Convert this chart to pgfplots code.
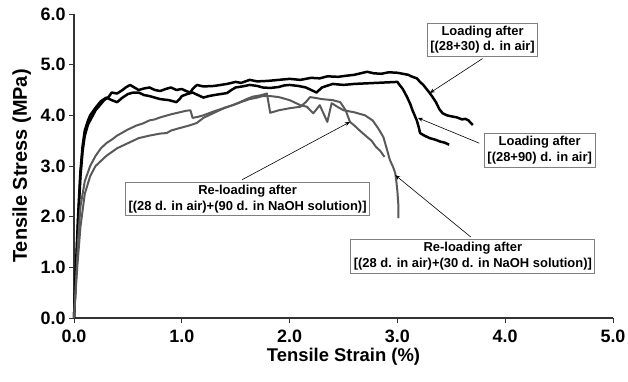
\documentclass[border=0pt]{standalone}
\usepackage{fontspec}
\setmainfont{Liberation Sans}
\usepackage{pgfplots}
\pgfplotsset{compat=1.18}
\usetikzlibrary{arrows.meta}
\begin{document}
\begin{tikzpicture}
\path[use as bounding box] (-74bp,-64bp) rectangle (554bp,318bp);
\begin{axis}[
  anchor=south west, at={(0,0)},
  scale only axis, width=539bp, height=304bp,
  xmin=0, xmax=5, ymin=0, ymax=6,
  xtick={0,1,...,5}, ytick={0,1,...,6},
  axis x line*=bottom, axis y line*=left,
  axis line style={line width=1.2pt, color=black!80, -},
  tick style={line width=1pt, color=black!80},
  tick align=outside, major tick length=5bp,
  xticklabel style={font=\fontsize{18}{20}\selectfont\bfseries, yshift=-3bp},
  yticklabel style={font=\fontsize{18}{20}\selectfont\bfseries},
  /pgf/number format/assume math mode=true,
  /pgf/number format/.cd, fixed, fixed zerofill, precision=1, /pgfplots/.cd,
  xlabel={Tensile Strain (\%)}, ylabel={Tensile Stress (MPa)},
  xlabel style={font=\fontsize{18.5}{20}\selectfont\bfseries, at={(axis description cs:0.5,-0.1447)}, anchor=base},
  ylabel style={font=\fontsize{20}{22}\selectfont\bfseries, at={(axis description cs:-0.0872,0.5)}, anchor=base},
  clip=false,
]
% Loading after (28+30) d. in air
\addplot[black, line width=2.5pt, line join=round] coordinates {
(0,0) (0.02,1.0) (0.04,2.0) (0.06,2.8) (0.08,3.3) (0.1,3.6) (0.13,3.82) (0.15,3.9) (0.18,4.02) (0.2,4.1) (0.24,4.2) (0.28,4.3) (0.32,4.36) (0.35,4.45) (0.4,4.43) (0.45,4.5) (0.48,4.55) (0.52,4.6) (0.56,4.55) (0.6,4.5) (0.65,4.53) (0.7,4.55) (0.75,4.5) (0.8,4.48) (0.85,4.52) (0.9,4.55) (0.95,4.5) (1.0,4.52) (1.04,4.48) (1.08,4.45) (1.1,4.52) (1.14,4.6) (1.2,4.57) (1.3,4.58) (1.36,4.6) (1.42,4.62) (1.5,4.66) (1.55,4.64) (1.63,4.7) (1.7,4.67) (1.8,4.68) (1.9,4.7) (2.0,4.72) (2.1,4.7) (2.2,4.74) (2.28,4.73) (2.35,4.77) (2.45,4.76) (2.52,4.78) (2.6,4.8) (2.66,4.83) (2.72,4.86) (2.78,4.83) (2.85,4.82) (2.92,4.85) (3.0,4.84) (3.05,4.82) (3.1,4.8) (3.14,4.76) (3.18,4.73) (3.21,4.66) (3.24,4.6) (3.27,4.52) (3.30,4.44) (3.33,4.35) (3.36,4.25) (3.39,4.12) (3.42,4.04) (3.46,4.0) (3.5,3.98) (3.55,3.96) (3.6,3.92) (3.63,3.93) (3.66,3.9) (3.68,3.85) (3.7,3.81)
};
% Loading after (28+90) d. in air
\addplot[black, line width=2.5pt, line join=round] coordinates {
(0,0) (0.02,1.1) (0.04,2.1) (0.06,2.9) (0.08,3.4) (0.1,3.7) (0.13,3.9) (0.15,4.0) (0.2,4.15) (0.25,4.28) (0.3,4.35) (0.35,4.3) (0.4,4.26) (0.45,4.35) (0.5,4.42) (0.55,4.45) (0.6,4.45) (0.65,4.4) (0.7,4.38) (0.75,4.35) (0.8,4.32) (0.88,4.3) (0.95,4.26) (0.98,4.32) (1.0,4.38) (1.05,4.42) (1.1,4.45) (1.15,4.4) (1.2,4.35) (1.25,4.38) (1.3,4.4) (1.36,4.42) (1.42,4.44) (1.46,4.5) (1.5,4.55) (1.56,4.57) (1.63,4.6) (1.7,4.58) (1.75,4.55) (1.82,4.54) (1.9,4.56) (1.95,4.59) (2.0,4.6) (2.08,4.58) (2.15,4.55) (2.2,4.5) (2.25,4.45) (2.3,4.55) (2.4,4.62) (2.5,4.6) (2.6,4.62) (2.7,4.63) (2.8,4.64) (2.9,4.65) (3.0,4.66) (3.02,4.6) (3.05,4.52) (3.09,4.36) (3.12,4.22) (3.14,4.1) (3.16,4.0) (3.18,3.9) (3.2,3.75) (3.21,3.65) (3.25,3.6) (3.3,3.55) (3.35,3.52) (3.4,3.48) (3.44,3.46) (3.48,3.42)
};
% Re-loading after (28 d. in air)+(90 d. in NaOH)
\addplot[black!65, line width=2pt, line join=round] coordinates {
(0,0) (0.02,0.8) (0.04,1.6) (0.06,2.2) (0.1,2.7) (0.15,3.0) (0.2,3.2) (0.25,3.35) (0.3,3.45) (0.35,3.52) (0.4,3.6) (0.45,3.66) (0.5,3.72) (0.58,3.8) (0.64,3.84) (0.7,3.9) (0.75,3.92) (0.8,3.96) (0.85,3.99) (0.9,4.02) (1.0,4.07) (1.04,4.09) (1.08,4.1) (1.1,3.95) (1.15,3.97) (1.2,4.0) (1.3,4.08) (1.4,4.15) (1.47,4.2) (1.54,4.26) (1.6,4.32) (1.66,4.37) (1.72,4.39) (1.79,4.43) (1.82,4.05) (1.9,4.1) (2.0,4.14) (2.1,4.17) (2.15,4.26) (2.19,4.36) (2.25,4.34) (2.3,4.32) (2.4,4.3) (2.47,4.26) (2.52,4.1) (2.56,3.87) (2.6,3.8) (2.65,3.7) (2.72,3.57) (2.76,3.5) (2.8,3.38) (2.84,3.3) (2.88,3.18)
};
% Re-loading after (28 d. in air)+(30 d. in NaOH)
\addplot[black!65, line width=2pt, line join=round] coordinates {
(0,0) (0.03,1.0) (0.06,1.8) (0.1,2.45) (0.15,2.8) (0.2,3.0) (0.25,3.1) (0.3,3.2) (0.4,3.35) (0.5,3.45) (0.6,3.55) (0.7,3.6) (0.8,3.64) (0.86,3.65) (0.9,3.7) (0.95,3.73) (1.0,3.76) (1.07,3.8) (1.14,3.85) (1.2,3.95) (1.3,4.05) (1.4,4.15) (1.5,4.22) (1.56,4.27) (1.63,4.32) (1.7,4.35) (1.75,4.38) (1.82,4.38) (1.9,4.36) (2.0,4.3) (2.1,4.2) (2.16,4.17) (2.22,4.04) (2.28,4.2) (2.35,3.87) (2.39,4.24) (2.45,4.16) (2.5,4.1) (2.6,4.06) (2.7,4.0) (2.77,3.9) (2.82,3.75) (2.87,3.57) (2.9,3.35) (2.93,3.12) (2.96,2.98) (2.98,2.86) (2.99,2.7) (3.0,2.5) (3.01,2.2) (3.01,1.97)
};
% annotations
\tikzset{lbl/.style={draw=black!50, line width=0.8pt, fill=white, align=center, inner sep=3bp,
  font=\fontsize{13}{15.5}\selectfont\bfseries},
  arr/.style={black, line width=0.6pt, -{Stealth[length=5bp,width=4bp]}}}
\draw[arr] (axis cs:3.79,5.12) -- (axis cs:3.30,4.44);
\draw[arr] (axis cs:3.76,3.45) -- (axis cs:3.19,3.95);
\draw[arr] (axis cs:1.56,2.73) -- (axis cs:2.56,3.87);
\draw[arr] (axis cs:3.68,1.6) -- (axis cs:2.98,2.82);
\node[lbl] at (axis cs:3.79,5.49) {Loading after\\{}[(28+30) d. in air]};
\node[lbl] at (axis cs:4.32,3.31) {Loading after\\{}[(28+90) d. in air]};
\node[lbl] at (axis cs:1.61,2.35) {Re-loading after\\{}[(28 d. in air)+(90 d. in NaOH solution)]};
\node[lbl] at (axis cs:3.70,1.22) {Re-loading after\\{}[(28 d. in air)+(30 d. in NaOH solution)]};
\end{axis}
\end{tikzpicture}
\end{document}
